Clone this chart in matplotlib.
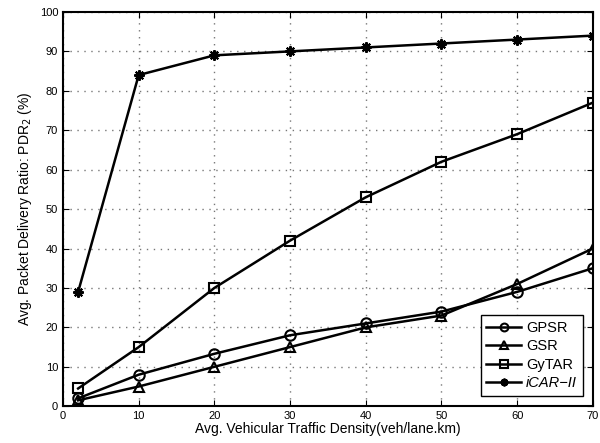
"""Packet delivery ratio vs. vehicular traffic density."""

import matplotlib
matplotlib.use("Agg")
from matplotlib import pyplot as plt

density = [2, 10, 20, 30, 40, 50, 60, 70]
gpsr = [2, 8, 13.3, 18, 21, 24, 29, 35]
gsr = [1.5, 5, 10, 15, 20, 23, 31, 40]
gytar = [4.5, 15, 30, 42, 53, 62, 69, 77]
icar = [29, 84, 89, 90, 91, 92, 93, 94]

plt.rcParams['font.family'] = ['Liberation Sans', 'DejaVu Sans']

fig = plt.figure(figsize=(6.0, 4.43), dpi=100)
ax = fig.add_axes([0.105, 0.083, 0.883, 0.89])

style = dict(color='black', lw=1.8, mfc='none', mew=1.5, ms=7.5)
ax.plot(density, gpsr, marker='o', label='GPSR', **style)
ax.plot(density, gsr, marker='^', label='GSR', **style)
ax.plot(density, gytar, marker='s', label='GyTAR', **style)
ax.plot(density, icar, marker=(8, 2, 0), label='iCAR\u2212II', **style)

ax.set_xlim(0, 70)
ax.set_ylim(0, 100)
ax.set_xticks(range(0, 71, 10))
ax.set_yticks(range(0, 101, 10))
ax.tick_params(labelsize=8, direction='in', top=True, right=True, length=4)
ax.grid(True, ls=(0, (1, 4)), color='#777777', lw=1.0)
for s in ax.spines.values():
    s.set_linewidth(1.5)

ax.set_xlabel('Avg. Vehicular Traffic Density(veh/lane.km)', fontsize=10, labelpad=1)
ax.set_ylabel('Avg. Packet Delivery Ratio: PDR$_2$ (%)', fontsize=10)

leg = ax.legend(loc='lower right', fontsize=10.5, fancybox=False, edgecolor='black',
                framealpha=1, handlelength=2.4, borderaxespad=0.7,
                handletextpad=0.3, labelspacing=0.3, markerscale=0.75,
                borderpad=0.4)
leg.get_frame().set_linewidth(1.0)
leg.get_texts()[3].set_fontstyle('italic')

fig.savefig('out.png', dpi=100)
